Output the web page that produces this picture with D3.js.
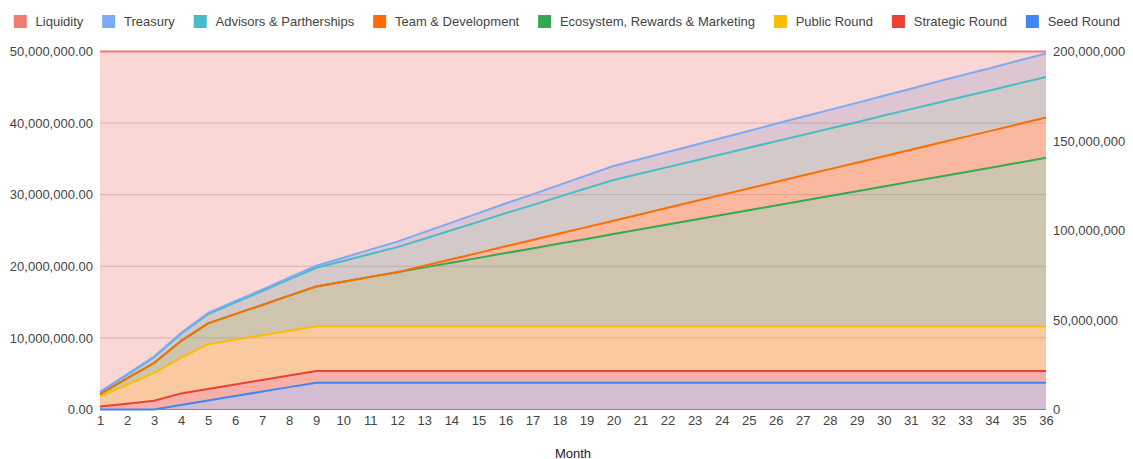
<!DOCTYPE html>
<html>
<head>
<meta charset="utf-8">
<script src="https://cdn.jsdelivr.net/npm/d3@7"></script>
<style>
  html, body { margin: 0; padding: 0; background: #fff; }
  svg { display: block; font-family: Arial, "Liberation Sans", sans-serif; }
</style>
</head>
<body>
<svg id="chart" width="1133" height="459"></svg>
<script>
// ---------- DATA (values in millions of tokens) ----------
const months = [1,2,3,4,5,6,7,8,9,10,11,12,13,14,15,16,17,18,19,20,21,22,23,24,25,26,27,28,29,30,31,32,33,34,35,36];

const seedRound = [0,0,0,2.5,5,7.5,10,12.5,15,15,15,15,15,15,15,15,15,15,15,15,15,15,15,15,15,15,15,15,15,15,15,15,15,15,15,15];
const strategicRound = [1.625,3.25,4.875,6.5,6.5,6.5,6.5,6.5,6.5,6.5,6.5,6.5,6.5,6.5,6.5,6.5,6.5,6.5,6.5,6.5,6.5,6.5,6.5,6.5,6.5,6.5,6.5,6.5,6.5,6.5,6.5,6.5,6.5,6.5,6.5,6.5];
const publicRound = [5.8,10.6,15.6,20,25,25,25,25,25,25,25,25,25,25,25,25,25,25,25,25,25,25,25,25,25,25,25,25,25,25,25,25,25,25,25,25];
const ecosystem = [1.2,3.5,5.5,9.3,11.6,14.3,16.9,19.6,22.2,24.9,27.6,30.2,32.9,35.5,38.2,40.9,43.5,46.2,48.8,51.5,54.2,56.8,59.5,62.1,64.8,67.5,70.1,72.8,75.4,78.1,80.8,83.4,86.1,88.7,91.4,94.1];
const teamDev = [0,0,0,0,0,0,0,0,0,0,0,0,0.9,1.9,2.8,3.8,4.7,5.6,6.6,7.5,8.4,9.4,10.3,11.3,12.2,13.1,14.1,15.0,15.9,16.9,17.8,18.8,19.7,20.6,21.6,22.5];
const advisors = [1.0,2.0,3.2,4.0,5.2,6.5,7.8,9.1,10.5,11.6,12.8,14.0,15.1,16.2,17.3,18.4,19.5,20.6,21.7,22.7,22.7,22.7,22.7,22.7,22.7,22.7,22.7,22.7,22.7,22.7,22.7,22.7,22.7,22.7,22.7,22.7];
const treasury = [0.2,0.3,0.4,0.5,0.6,0.7,0.8,0.9,1.1,1.8,2.4,3.1,3.7,4.3,4.9,5.5,6.0,6.6,7.2,7.8,8.1,8.5,8.8,9.1,9.4,9.8,10.1,10.4,10.8,11.1,11.4,11.8,12.1,12.4,12.8,13.1];
const liquidity = [50,50,50,50,50,50,50,50,50,50,50,50,50,50,50,50,50,50,50,50,50,50,50,50,50,50,50,50,50,50,50,50,50,50,50,50];

const stackNames = ["Seed Round","Strategic Round","Public Round","Ecosystem, Rewards & Marketing","Team & Development","Advisors & Partherships","Treasury"];
const stackValues = [seedRound, strategicRound, publicRound, ecosystem, teamDev, advisors, treasury];
const stackColors = ["#4285f4","#ea4335","#fbbc04","#34a853","#ff6d01","#46bdc6","#7baaf7"];
const liquidityName = "Liquidity";
const liquidityColor = "#f07b72";

const leftTicks = [0,10,20,30,40,50];
const rightTicks = [0,50,100,150,200];
const xTitle = "Month";

// ---------- LAYOUT ----------
const svg = d3.select("#chart");
const plot = {left: 100, right: 1046, top: 51.5, bottom: 409.5};

const x = d3.scaleLinear().domain([1, 36]).range([plot.left, plot.right]);
const yL = d3.scaleLinear().domain([0, 50]).range([plot.bottom, plot.top]);
const yR = d3.scaleLinear().domain([0, 200]).range([plot.bottom, plot.top]);

const textColor = "#444";

// gridlines (left axis)
svg.append("g")
  .selectAll("line")
  .data(leftTicks.filter(d => d > 0))
  .join("line")
  .attr("x1", plot.left).attr("x2", plot.right)
  .attr("y1", d => yL(d)).attr("y2", d => yL(d))
  .attr("stroke", "#cccccc").attr("stroke-width", 1);

// baseline
svg.append("line")
  .attr("x1", plot.left).attr("x2", plot.right)
  .attr("y1", yL(0)).attr("y2", yL(0))
  .attr("stroke", "#888").attr("stroke-width", 1);

// stacked series on right axis
const table = months.map((m, i) => {
  const row = {month: m};
  stackNames.forEach((n, k) => row[n] = stackValues[k][i]);
  return row;
});
const stacked = d3.stack().keys(stackNames)(table);

const area = d3.area()
  .x(d => x(d.data.month))
  .y0(d => yR(d[0]))
  .y1(d => yR(d[1]));
const line = d3.line()
  .x(d => x(d.data.month))
  .y(d => yR(d[1]));

svg.append("g").selectAll("path")
  .data(stacked)
  .join("path")
  .attr("d", area)
  .attr("fill", (d, i) => stackColors[i])
  .attr("fill-opacity", 0.3);

// liquidity area on left axis (drawn over the stacked areas)
const liqData = months.map((m, i) => ({m, v: liquidity[i]}));
svg.append("path")
  .datum(liqData)
  .attr("d", d3.area().x(d => x(d.m)).y0(yL(0)).y1(d => yL(d.v)))
  .attr("fill", liquidityColor).attr("fill-opacity", 0.3);

// lines on top
svg.append("g").selectAll("path")
  .data(stacked)
  .join("path")
  .attr("d", line)
  .attr("fill", "none")
  .attr("stroke", (d, i) => stackColors[i])
  .attr("stroke-width", 2)
  .attr("stroke-linejoin", "round");

svg.append("path")
  .datum(liqData)
  .attr("d", d3.line().x(d => x(d.m)).y(d => yL(d.v)))
  .attr("fill", "none").attr("stroke", liquidityColor).attr("stroke-width", 2);

// ---------- AXES ----------
const fmtL = d => d3.format(",.2f")(d * 1e6);
const fmtR = d => d3.format(",")(d * 1e6);

const axL = svg.append("g")
  .attr("transform", `translate(${plot.left - 7},0)`)
  .call(d3.axisLeft(yL).tickValues(leftTicks).tickFormat(fmtL).tickSize(0).tickPadding(0));
const axR = svg.append("g")
  .attr("transform", `translate(${plot.right + 7},0)`)
  .call(d3.axisRight(yR).tickValues(rightTicks).tickFormat(fmtR).tickSize(0).tickPadding(0));
const axB = svg.append("g")
  .attr("transform", `translate(0,${plot.bottom + 6})`)
  .call(d3.axisBottom(x).tickValues(months).tickFormat(d3.format("d")).tickSize(0).tickPadding(0));

[axL, axR, axB].forEach(a => {
  a.select(".domain").remove();
  a.selectAll("text").attr("fill", textColor).style("font-size", "13px").style("font-family", "Arial, 'Liberation Sans', sans-serif");
});
axB.selectAll("text").attr("dy", null).attr("y", 0).attr("dominant-baseline", "hanging");

svg.append("text")
  .attr("x", (plot.left + plot.right) / 2)
  .attr("y", 453)
  .attr("text-anchor", "middle")
  .attr("dominant-baseline", "central")
  .attr("fill", "#222")
  .style("font-size", "13px")
  .text(xTitle);

// ---------- LEGEND ----------
const legendNames = [liquidityName].concat(stackNames.slice().reverse());
const legendColors = [liquidityColor].concat(stackColors.slice().reverse());
const legend = svg.append("g");
let lx = 13.8;
legendNames.forEach((name, i) => {
  legend.append("rect")
    .attr("x", lx).attr("y", 15).attr("width", 13).attr("height", 13)
    .attr("fill", legendColors[i]);
  const t = legend.append("text")
    .attr("x", lx + 21.8).attr("y", 21.5)
    .attr("dominant-baseline", "central")
    .attr("fill", textColor)
    .style("font-size", "13px")
    .text(name);
  const w = t.node().getComputedTextLength();
  lx = lx + 21.8 + w + 18.9;
});
</script>
</body>
</html>
